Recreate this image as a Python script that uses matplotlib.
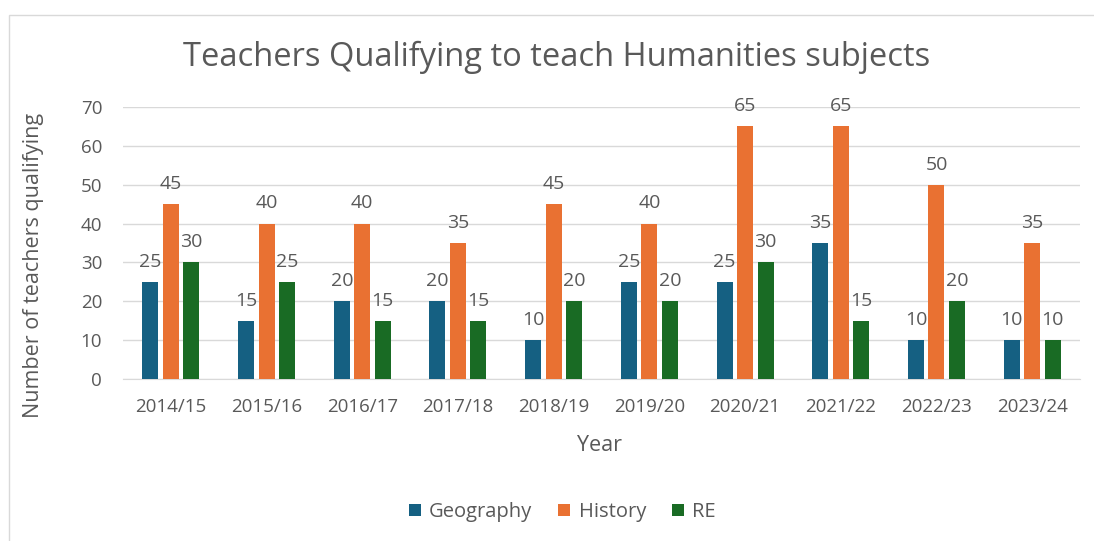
import matplotlib.pyplot as plt
import numpy as np
from matplotlib.patches import Rectangle

years = ["2014/15", "2015/16", "2016/17", "2017/18", "2018/19",
         "2019/20", "2020/21", "2021/22", "2022/23", "2023/24"]
geography = [25, 15, 20, 20, 10, 25, 25, 35, 10, 10]
history = [45, 40, 40, 35, 45, 40, 65, 65, 50, 35]
re_vals = [30, 25, 15, 15, 20, 20, 30, 15, 20, 10]

colors = ["#156082", "#E97132", "#196B24"]
grey = "#595959"
plt.rcParams['font.family'] = ['Open Sans', 'DejaVu Sans']

fig = plt.figure(figsize=(10.94, 5.41), dpi=100)
ax = fig.add_axes([123 / 1094, 1 - 379 / 541, 957 / 1094, 272 / 541])

# chart frame
fig.patches.append(Rectangle((9 / 1094, -0.05), 1.2, 1 - 15 / 541 + 0.05,
                             transform=fig.transFigure, fill=False,
                             edgecolor="#D9D9D9", linewidth=1))

x = np.arange(len(years))
w = 0.167
step = 0.214
for off, vals, c, name in [(-step, geography, colors[0], "Geography"),
                           (0, history, colors[1], "History"),
                           (step, re_vals, colors[2], "RE")]:
    bars = ax.bar(x + off, vals, w, color=c, label=name, zorder=3)
    ax.bar_label(bars, padding=8, fontsize=14, color=grey)

ax.set_xlim(-0.5, len(years) - 0.5)
ax.set_ylim(0, 70)
ax.set_yticks(range(0, 71, 10))
ax.set_xticks(x)
ax.set_xticklabels(years)
ax.yaxis.grid(True, color="#D9D9D9", linewidth=1, zorder=0)
for s in ax.spines.values():
    s.set_visible(False)
ax.spines["bottom"].set_visible(True)
ax.spines["bottom"].set_color("#D9D9D9")
ax.tick_params(length=0, labelsize=13.5, colors=grey)
ax.tick_params(axis="x", pad=14)
ax.tick_params(axis="y", pad=15)

ax.set_xlabel("Year", fontsize=15.5, color=grey)
ax.set_ylabel("Number of teachers qualifying", fontsize=15.5, color=grey)
ax.xaxis.set_label_coords(0.498, -0.246)
ax.xaxis.label.set_va("center")
ax.yaxis.set_label_coords(-0.094, 0.419)
ax.yaxis.label.set_va("center")

fig.text(0.509, 1 - 57 / 541, "Teachers Qualifying to teach Humanities subjects",
         ha="center", va="center", fontsize=23.5, color=grey)

fig.legend(loc="center", bbox_to_anchor=(0.514, 1 - 512 / 541), ncol=3,
           frameon=False, fontsize=14.5, labelcolor=grey, handlelength=0.6,
           handleheight=0.6, handletextpad=0.4, columnspacing=1.3)

fig.savefig("out.png", dpi=100)
